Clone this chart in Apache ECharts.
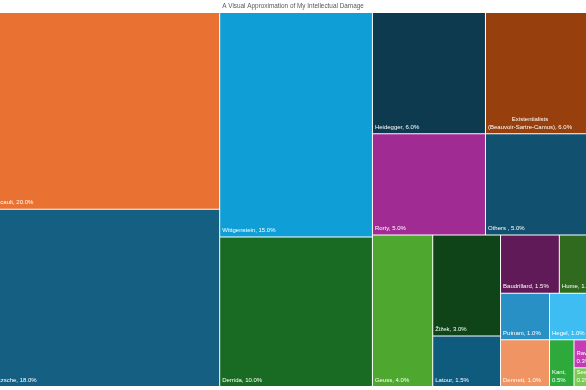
<!DOCTYPE html>
<html>
<head>
<meta charset="utf-8">
<script src="https://cdn.jsdelivr.net/npm/echarts@6/dist/echarts.min.js"></script>
<style>
html,body{margin:0;padding:0;background:#fff;}
#chart{width:586px;height:390px;}
</style>
</head>
<body>
<div id="chart"></div>
<script>
const titleText = 'A Visual Approximation of My Intellectual Damage';
const names = ['Foucault','Nietzsche','Wittgenstein','Derrida','Heidegger',
  'Existentialists\n(Beauvoir-Sartre-Camus)','Rorty','Others ','Geuss','Žižek',
  'Latour','Baudrillard','Hume','Putnam','Dennett','Hegel','Kant','Rawls','Searle'];
const values = [20,18,15,10,6,6,5,5,4,3,1.5,1.5,1,1,1,1,0.5,0.3,0.2];
const colors = ['#E97132','#156082','#0F9ED5','#196B24','#0E3A4F',
  '#983F0E','#A02B93','#125070','#4EA72E','#0F4318',
  '#0E5B7E','#5F1A57','#2F6A1E','#2990C6','#EF9462','#3DBDF2','#2DAA3B','#C63CB6','#7DC957'];

const total = values.reduce((a,b)=>a+b,0);
const FONT = '"Liberation Sans", Arial, sans-serif';
const FS = 6;
function pct(v){ return (v/total*100).toFixed(1) + '%'; }
const ctx = document.createElement('canvas').getContext('2d');
ctx.font = FS + 'px ' + FONT;
function measure(s){ return ctx.measureText(s).width; }

const data = names.map((n,i)=>{
  const item = {name:n, value:values[i], itemStyle:{color:colors[i]}};
  if (n.indexOf('\n') >= 0) {
    const lines = (n + ', ' + pct(values[i])).split('\n');
    const w = Math.max(...lines.map(measure));
    item.label = {align:'center', offset:[w/2, 0]};
  }
  return item;
});

const chart = echarts.init(document.getElementById('chart'), null, {renderer:'canvas'});
chart.setOption({
  animation:false,
  backgroundColor:'#ffffff',
  title:{
    text:titleText, left:'center', top:3, padding:0,
    textStyle:{fontSize:6.4, fontWeight:'normal', color:'#595959', fontFamily:FONT}
  },
  series:[{
    type:'treemap',
    left:-12, top:13, width:610, height:373,
    roam:false, nodeClick:false,
    breadcrumb:{show:false},
    squareRatio:0.766,
    sort:false,
    itemStyle:{borderWidth:0, gapWidth:1, borderColor:'#ffffff'},
    label:{
      show:true, position:'insideBottomLeft', distance:2, padding:0,
      fontSize:FS, fontFamily:FONT, color:'#ffffff', lineHeight:8,
      overflow:'break',
      formatter:(p)=> p.name + ', ' + pct(p.value)
    },
    data:data
  }]
});
</script>
</body>
</html>
